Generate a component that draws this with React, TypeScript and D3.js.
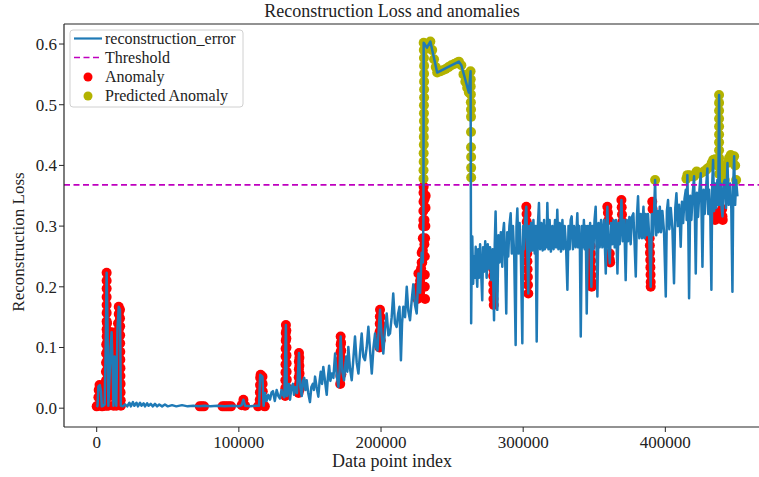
import React from 'react';
import * as d3 from 'd3';

type P = [number, number];

// reconstruction error: [data point index, loss]
const lossEarly: P[] = [
  [0, 0.002], [600, 0.004], [1200, 0.036], [2200, 0.038], [3000, 0.028], [3600, 0.003], [4600, 0.004],
  [5600, 0.006], [6400, 0.11], [7000, 0.223], [7600, 0.14], [8200, 0.004], [9000, 0.05], [9800, 0.1],
  [10500, 0.125], [11200, 0.07], [11800, 0.004], [12600, 0.085], [13200, 0.03], [13800, 0.004],
  [14600, 0.13], [15500, 0.167], [16400, 0.162], [17000, 0.004], [18500, 0.003], [20000, 0.006],
];

const lossFlat: P[] = [
  [21500, 0.003], [23000, 0.009], [24000, 0.003], [25500, 0.01], [26500, 0.004], [28000, 0.009],
  [29000, 0.003], [30500, 0.009], [31500, 0.004], [33000, 0.008], [34000, 0.003], [35500, 0.008],
  [36500, 0.004], [38000, 0.007], [39500, 0.003], [41000, 0.007], [42500, 0.003], [44000, 0.006],
  [46000, 0.003], [48000, 0.006], [50000, 0.003], [53000, 0.005], [56000, 0.003], [60000, 0.005],
  [64000, 0.003], [68000, 0.004], [72000, 0.003], [76000, 0.004], [80000, 0.003], [85000, 0.004],
  [90000, 0.003], [95000, 0.004], [100000, 0.003], [102000, 0.005], [103200, 0.014], [104400, 0.004],
  [108000, 0.003], [112000, 0.004], [114200, 0.004], [115000, 0.055], [116600, 0.052], [117400, 0.004],
  [118400, 0.025],
];

const lossRise: P[] = [
  [119500, 0.012], [120700, 0.022], [121900, 0.014], [123000, 0.026], [124000, 0.028], [125300, 0.012],
  [126600, 0.03], [127800, 0.02], [128900, 0.016], [130000, 0.03], [131000, 0.022], [132000, 0.018],
  [133100, 0.137], [133800, 0.02], [134500, 0.03], [135300, 0.04], [136000, 0.014], [137000, 0.035],
  [138000, 0.04], [138800, 0.022], [139500, 0.035], [140900, 0.025], [142300, 0.091], [143200, 0.035],
  [144200, 0.02], [145100, 0.045], [146000, 0.05], [146800, 0.03], [147700, 0.046], [148800, 0.025],
  [150000, 0.01], [151000, 0.035], [152000, 0.04], [152800, 0.03], [153600, 0.052], [154700, 0.035],
  [155900, 0.019], [156800, 0.045], [157600, 0.06], [158500, 0.04], [159400, 0.068], [160600, 0.045],
  [161800, 0.022], [162600, 0.05], [163500, 0.07], [164400, 0.045], [165300, 0.057], [166500, 0.05],
  [167700, 0.09], [168800, 0.055], [170000, 0.035], [170800, 0.06], [171600, 0.118], [172800, 0.06],
  [174000, 0.046], [174800, 0.07], [175500, 0.085], [176300, 0.06], [177000, 0.101], [178200, 0.065],
  [179400, 0.046], [180500, 0.08], [181700, 0.118], [182900, 0.075], [184100, 0.057], [185200, 0.09],
  [186400, 0.123], [187500, 0.085], [188700, 0.079], [189900, 0.1], [191100, 0.134], [192300, 0.095],
  [193500, 0.057], [194700, 0.1], [195800, 0.123], [196600, 0.1], [197500, 0.095], [198400, 0.13],
  [199300, 0.162], [200400, 0.12], [201600, 0.09], [202800, 0.13], [204000, 0.156], [205200, 0.12],
  [206300, 0.123], [207500, 0.15], [208600, 0.189], [209800, 0.14], [211000, 0.134], [212000, 0.155],
  [213000, 0.167], [214000, 0.079], [214800, 0.14], [215700, 0.167], [216900, 0.15], [218100, 0.2],
  [219200, 0.16], [220400, 0.145], [221500, 0.175], [222700, 0.204], [223900, 0.17], [225100, 0.156],
  [226300, 0.222], [227500, 0.19], [228600, 0.256], [229400, 0.24], [229800, 0.31],
];

const lossPeak: P[] = [
  [230000, 0.602], [232300, 0.594], [234700, 0.604], [239500, 0.553], [247000, 0.562], [254800, 0.571],
  [256500, 0.565], [261800, 0.52], [263000, 0.555],
];

const lossLate: P[] = [
  [263400, 0.14], [263800, 0.25], [264200, 0.283], [264800, 0.205], [265400, 0.25], [266000, 0.215],
  [266600, 0.266], [267100, 0.225], [267700, 0.2], [268300, 0.262], [268900, 0.215], [269700, 0.27],
  [270500, 0.22], [271200, 0.178], [271800, 0.265], [272400, 0.225], [273300, 0.275], [274300, 0.215],
  [275100, 0.27], [275900, 0.23], [276700, 0.265], [277600, 0.211], [278500, 0.262], [279500, 0.145],
  [280000, 0.27], [280600, 0.324], [281200, 0.245], [281800, 0.162], [282600, 0.285], [283400, 0.24],
  [284300, 0.29], [285300, 0.233], [285900, 0.29], [286500, 0.305], [287300, 0.25], [288100, 0.156],
  [288800, 0.29], [289500, 0.25], [290300, 0.3], [291200, 0.321], [292000, 0.255], [292800, 0.3],
  [293700, 0.25], [294700, 0.104], [295300, 0.3], [295900, 0.329], [296700, 0.255], [297500, 0.305],
  [298400, 0.25], [299400, 0.107], [300000, 0.3], [300600, 0.262], [301400, 0.31], [302200, 0.332],
  [302900, 0.26], [303600, 0.189], [304200, 0.3], [304800, 0.258], [305600, 0.305], [306400, 0.26],
  [307200, 0.31], [308100, 0.255], [308800, 0.3], [309500, 0.11], [310300, 0.3], [311100, 0.338],
  [311900, 0.262], [312800, 0.305], [313700, 0.26], [314700, 0.31], [315200, 0.262], [315800, 0.3],
  [316400, 0.265], [317000, 0.338], [317800, 0.262], [318600, 0.31], [319500, 0.258], [320500, 0.3],
  [321400, 0.262], [322400, 0.31], [323200, 0.265], [324000, 0.327], [324800, 0.262], [325700, 0.305],
  [326600, 0.258], [327600, 0.31], [328400, 0.262], [329200, 0.3], [330200, 0.265], [331100, 0.195],
  [331900, 0.3], [332700, 0.262], [333400, 0.31], [334100, 0.316], [335000, 0.262], [335800, 0.3],
  [336900, 0.265], [338100, 0.321], [338700, 0.265], [339300, 0.3], [339900, 0.262], [340500, 0.118],
  [341300, 0.3], [342100, 0.265], [342700, 0.31], [343300, 0.262], [344000, 0.3], [344700, 0.156],
  [345500, 0.3], [346300, 0.265], [347100, 0.305], [348000, 0.2], [348700, 0.3], [349400, 0.262],
  [350200, 0.31], [351000, 0.332], [351600, 0.265], [352200, 0.184], [353000, 0.305], [353800, 0.265],
  [354800, 0.31], [355700, 0.265], [356900, 0.31], [358100, 0.222], [358700, 0.3], [359200, 0.332],
  [360000, 0.27], [360900, 0.239], [361800, 0.305], [362700, 0.27], [363500, 0.31], [364400, 0.265],
  [365300, 0.31], [366300, 0.222], [367100, 0.305], [367900, 0.27], [368500, 0.31], [369100, 0.343],
  [370000, 0.275], [371000, 0.31], [371500, 0.27], [372100, 0.211], [372900, 0.31], [373800, 0.275],
  [374700, 0.315], [375600, 0.27], [376500, 0.315], [377500, 0.321], [378300, 0.275], [379200, 0.217],
  [380000, 0.315], [380800, 0.349], [381700, 0.28], [382700, 0.32], [383600, 0.28], [384600, 0.332],
  [385400, 0.28], [386200, 0.32], [387000, 0.285], [387800, 0.32], [388700, 0.28], [389700, 0.2],
  [390500, 0.32], [391400, 0.285], [392100, 0.325], [392800, 0.376], [393600, 0.285], [394400, 0.325],
  [395200, 0.29], [396100, 0.332], [397000, 0.29], [397900, 0.325], [399100, 0.29], [400300, 0.184],
  [401100, 0.325], [401900, 0.343], [402800, 0.295], [403800, 0.33], [405000, 0.295], [406100, 0.206],
  [407000, 0.33], [407800, 0.354], [408800, 0.3], [409700, 0.335], [410300, 0.3], [410800, 0.266],
  [411700, 0.34], [412500, 0.305], [413500, 0.345], [414400, 0.36], [415000, 0.31], [415500, 0.384],
  [416100, 0.31], [416700, 0.181], [417500, 0.35], [418300, 0.31], [419300, 0.355], [420200, 0.382],
  [420800, 0.315], [421400, 0.222], [422200, 0.355], [423000, 0.315], [424000, 0.36], [424900, 0.387],
  [425500, 0.32], [426100, 0.233], [426900, 0.36], [427700, 0.32], [428700, 0.365], [429600, 0.395],
  [430200, 0.32], [430800, 0.36], [431600, 0.325], [432400, 0.195], [433000, 0.37], [433600, 0.409],
  [434300, 0.325], [435000, 0.37], [435800, 0.33], [436600, 0.376], [437200, 0.335], [437800, 0.516],
  [438400, 0.335], [439000, 0.37], [439600, 0.33], [440200, 0.316], [441000, 0.37], [441800, 0.376],
  [442700, 0.33], [443700, 0.404], [444600, 0.335], [445600, 0.37], [446400, 0.33], [447200, 0.192],
  [447800, 0.37], [448400, 0.415], [449100, 0.335], [449800, 0.376], [450700, 0.349],
];

// true anomalies (red markers)
const anomalyPoints: P[] = [
  [0, 0.003], [800, 0.004], [1200, 0.018], [1400, 0.03], [2000, 0.038], [2600, 0.032], [2800, 0.018],
  [3000, 0.005], [3800, 0.003], [4600, 0.004], [5600, 0.004],
  [6400, 0.015], [6400, 0.03], [6500, 0.045], [6500, 0.06], [6600, 0.075], [6600, 0.09], [6700, 0.105],
  [7000, 0.004], [7000, 0.118], [7000, 0.13], [7000, 0.143], [7000, 0.157], [7000, 0.17], [7000, 0.183],
  [7000, 0.197], [7000, 0.21], [7000, 0.223], [7300, 0.14], [7400, 0.125], [7500, 0.11], [7500, 0.095],
  [7600, 0.08], [7600, 0.065], [7700, 0.05], [7700, 0.035], [7800, 0.02],
  [8200, 0.004], [9000, 0.05], [9000, 0.035], [9000, 0.02], [9500, 0.065], [9800, 0.08], [9800, 0.1],
  [10300, 0.113], [10500, 0.125], [10700, 0.11], [10900, 0.095], [10900, 0.08], [11100, 0.065],
  [11200, 0.05], [11300, 0.035], [11500, 0.02], [11800, 0.004], [12400, 0.06], [12600, 0.085],
  [12800, 0.07], [12900, 0.045], [13200, 0.03], [13800, 0.004],
  [14400, 0.02], [14500, 0.045], [14500, 0.07], [14600, 0.095], [14600, 0.118], [15000, 0.14],
  [15500, 0.167], [15500, 0.155], [15600, 0.13], [15600, 0.105], [15700, 0.08], [15800, 0.055],
  [15900, 0.03], [16400, 0.162], [16400, 0.148], [16500, 0.135], [16500, 0.12], [16500, 0.107],
  [16600, 0.093], [16600, 0.08], [16700, 0.066], [16700, 0.053], [16800, 0.04], [16800, 0.026],
  [16900, 0.013], [17000, 0.004],
  [72500, 0.003], [74000, 0.003], [75500, 0.003], [88500, 0.003], [90000, 0.003], [91500, 0.003],
  [93000, 0.003], [94500, 0.003], [102000, 0.005], [103200, 0.014], [104400, 0.004], [113500, 0.003],
  [114700, 0.014], [114800, 0.026], [114900, 0.038], [115000, 0.05], [115300, 0.055], [116600, 0.052],
  [116700, 0.04], [116800, 0.028], [116900, 0.016], [117400, 0.004], [118300, 0.003],
  [132600, 0.02], [132700, 0.033], [132700, 0.046], [132800, 0.059], [132800, 0.072], [132900, 0.085],
  [132900, 0.098], [133000, 0.111], [133000, 0.124], [133100, 0.137], [133400, 0.128], [133400, 0.115],
  [133500, 0.1], [133500, 0.087], [133600, 0.074], [133600, 0.06], [133700, 0.047], [133700, 0.034],
  [142000, 0.025], [142100, 0.038], [142100, 0.051], [142200, 0.064], [142200, 0.077], [142300, 0.091],
  [142600, 0.083], [142600, 0.07], [142700, 0.057], [142700, 0.044], [142800, 0.031],
  [171300, 0.04], [171400, 0.053], [171400, 0.066], [171500, 0.079], [171500, 0.092], [171600, 0.105],
  [171600, 0.118], [171900, 0.108], [172000, 0.095], [172000, 0.082], [172100, 0.069], [172100, 0.056],
  [198900, 0.1], [199000, 0.113], [199000, 0.126], [199100, 0.139], [199200, 0.151], [199300, 0.162],
  [199600, 0.15], [199700, 0.137], [199700, 0.124], [199800, 0.112],
  [225600, 0.18], [226300, 0.222], [226300, 0.2], [227000, 0.19], [227500, 0.19], [227500, 0.21],
  [228200, 0.23], [228600, 0.256], [228600, 0.24], [229000, 0.24], [229400, 0.26], [229400, 0.28],
  [229600, 0.3], [229800, 0.31], [229800, 0.325], [229900, 0.34], [229900, 0.355], [230000, 0.365],
  [230800, 0.2], [230800, 0.22], [230800, 0.25], [231000, 0.28], [231200, 0.3], [231300, 0.33],
  [231400, 0.35], [231000, 0.18], [230500, 0.27], [230600, 0.31], [230700, 0.345],
  [278800, 0.23], [278900, 0.218], [279000, 0.205], [279000, 0.193], [279100, 0.18], [279300, 0.17],
  [302200, 0.332], [302400, 0.32], [302500, 0.307], [302600, 0.294], [302700, 0.281], [302800, 0.268],
  [302900, 0.255], [303000, 0.242], [303100, 0.229], [303300, 0.216], [303400, 0.203], [303600, 0.189],
  [347500, 0.267], [347700, 0.255], [347800, 0.243], [347900, 0.231], [348000, 0.219], [348100, 0.208],
  [348200, 0.2],
  [359200, 0.332], [359600, 0.322], [360000, 0.31], [360900, 0.255], [360900, 0.245], [361200, 0.24],
  [369100, 0.343], [369300, 0.331], [369500, 0.319], [369700, 0.307],
  [389000, 0.28], [389100, 0.268], [389200, 0.256], [389400, 0.244], [389500, 0.232], [389600, 0.22],
  [389700, 0.208], [389700, 0.2], [390800, 0.34], [391000, 0.328],
  [434800, 0.316], [435000, 0.31], [435600, 0.322], [440200, 0.316], [440400, 0.31], [440000, 0.328],
];

// predicted anomalies (olive markers), loss above threshold
const predictedPoints: P[] = [
  [229900, 0.378], [229900, 0.392], [230000, 0.406], [230000, 0.42], [230100, 0.434], [230100, 0.447],
  [230100, 0.46], [230200, 0.473], [230200, 0.486], [230200, 0.499], [230300, 0.512], [230300, 0.525],
  [230300, 0.538], [230300, 0.551], [230300, 0.564], [230200, 0.577], [230100, 0.59], [230000, 0.602],
  [231200, 0.598], [232300, 0.594], [233500, 0.6], [234700, 0.604], [236000, 0.59], [237300, 0.575],
  [238500, 0.562], [239500, 0.553], [241500, 0.555], [243500, 0.557], [245500, 0.559], [247500, 0.562],
  [249500, 0.565], [251500, 0.567], [253300, 0.569], [254800, 0.571], [256500, 0.565], [258000, 0.55],
  [259300, 0.538], [260600, 0.528], [261800, 0.52], [262400, 0.538], [263000, 0.555],
  [263100, 0.542], [263100, 0.53], [263200, 0.517], [263200, 0.504], [263300, 0.492], [263300, 0.48],
  [263300, 0.455], [263300, 0.43], [263400, 0.414], [263400, 0.396], [263400, 0.38],
  [392800, 0.376],
  [414800, 0.378], [415500, 0.384], [417000, 0.384], [418500, 0.382], [420200, 0.382], [422000, 0.39],
  [423500, 0.388], [424900, 0.387], [427000, 0.39], [428500, 0.392], [429600, 0.395], [431500, 0.398],
  [432600, 0.404], [433600, 0.409], [435000, 0.41], [436600, 0.4], [437800, 0.516], [437800, 0.503],
  [437800, 0.49], [437800, 0.477], [437800, 0.464], [437800, 0.451], [437800, 0.438], [437800, 0.425],
  [437800, 0.412], [437800, 0.399], [437800, 0.386], [439500, 0.4], [441000, 0.39], [441800, 0.376],
  [443700, 0.404], [444800, 0.412], [446000, 0.417], [447400, 0.41], [448400, 0.415], [449100, 0.4],
  [449800, 0.376],
];

const threshold = 0.368;
const xTicks = [0, 100000, 200000, 300000, 400000];
const yTicks = [0, 0.1, 0.2, 0.3, 0.4, 0.5, 0.6];
const legendLabels = ['reconstruction_error', 'Threshold', 'Anomaly', 'Predicted Anomaly'];

const FONT = '"Liberation Serif", "Times New Roman", serif';
const C_LINE = '#1f7ab6';
const C_RED = '#ff0000';
const C_OLIVE = '#b3b300';
const C_THR = '#bf00bf';

export default function App() {
  const W = 759;
  const H = 477;
  const L = 64, R = 764, T = 24, B = 427;
  const x = d3.scaleLinear().domain([-23000, 469400]).range([L, R]);
  const y = d3.scaleLinear().domain([-0.031, 0.633]).range([B, T]);
  const loss = [...lossEarly, ...lossFlat, ...lossRise, ...lossPeak, ...lossLate];
  const line = d3.line<P>().x((d) => x(d[0])).y((d) => y(d[1]));

  return (
    <svg width={W} height={H} style={{ position: 'absolute', left: 0, top: 0, background: '#fff' }}
      fontFamily={FONT}>
      <defs>
        <clipPath id="plot"><rect x={L} y={T} width={R - L} height={B - T} /></clipPath>
      </defs>
      <rect x={0} y={0} width={W} height={H} fill="#fff" />
      <g clipPath="url(#plot)">
        {anomalyPoints.map((d, i) => (
          <circle key={'a' + i} cx={x(d[0])} cy={y(d[1])} r={5} fill={C_RED} />
        ))}
        {predictedPoints.map((d, i) => (
          <circle key={'p' + i} cx={x(d[0])} cy={y(d[1])} r={5} fill={C_OLIVE} />
        ))}
        <path d={line(loss) || ''} fill="none" stroke={C_LINE} strokeWidth={2.5} strokeLinejoin="round" />
        <line x1={L} x2={R} y1={y(threshold)} y2={y(threshold)} stroke={C_THR} strokeWidth={1.6}
          strokeDasharray="6,3.5" />
      </g>
      {/* spines */}
      <g stroke="#262626" strokeWidth={1.2} fill="none">
        <line x1={L} x2={L} y1={T} y2={B} />
        <line x1={L} x2={R} y1={B} y2={B} />
        <line x1={L} x2={R} y1={T} y2={T} />
        <line x1={R} x2={R} y1={T} y2={B} />
      </g>
      {/* y ticks */}
      {yTicks.map((t) => (
        <g key={'y' + t}>
          <line x1={L - 5} x2={L} y1={y(t)} y2={y(t)} stroke="#262626" strokeWidth={1} />
          <text x={L - 7} y={y(t) + 6} textAnchor="end" fontSize={17} fill="#222">{t.toFixed(1)}</text>
        </g>
      ))}
      {/* x ticks */}
      {xTicks.map((t) => (
        <g key={'x' + t}>
          <line x1={x(t)} x2={x(t)} y1={B} y2={B + 5} stroke="#262626" strokeWidth={1} />
          <text x={x(t)} y={B + 21} textAnchor="middle" fontSize={17} fill="#222">{String(t)}</text>
        </g>
      ))}
      <text x={392} y={17} textAnchor="middle" fontSize={18} fill="#222">Reconstruction Loss and anomalies</text>
      <text x={392} y={467} textAnchor="middle" fontSize={18} fill="#222">Data point index</text>
      <text transform="translate(24,242) rotate(-90)" textAnchor="middle" fontSize={17} fill="#222">Reconstruction Loss</text>
      {/* legend */}
      <g>
        <rect x={70} y={30} width={173} height={77} rx={3} fill="#fff" fillOpacity={0.85} stroke="#d0d0d0" />
        <line x1={74} x2={102} y1={38.5} y2={38.5} stroke={C_LINE} strokeWidth={2.2} />
        <line x1={74} x2={102} y1={57.5} y2={57.5} stroke={C_THR} strokeWidth={1.6} strokeDasharray="6,3.5" />
        <circle cx={88} cy={77} r={4.5} fill={C_RED} />
        <circle cx={88} cy={96} r={4.5} fill={C_OLIVE} />
        {legendLabels.map((s, i) => (
          <text key={s} x={105} y={43.5 + i * 19.2} fontSize={16} fill="#222">{s}</text>
        ))}
      </g>
    </svg>
  );
}
